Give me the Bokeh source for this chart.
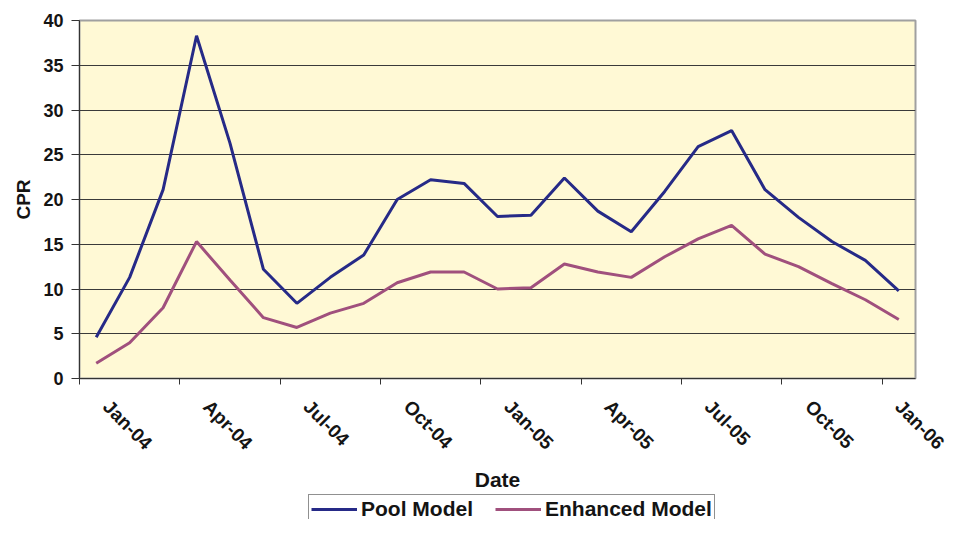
import math
from bokeh.plotting import figure
from bokeh.layouts import column
from bokeh.models import LinearAxis, FixedTicker, Range1d, Legend, LegendItem, Grid
from bokeh.embed import file_html
from bokeh.resources import INLINE

months = ["Jan-04", "Feb-04", "Mar-04", "Apr-04", "May-04", "Jun-04", "Jul-04",
          "Aug-04", "Sep-04", "Oct-04", "Nov-04", "Dec-04", "Jan-05", "Feb-05",
          "Mar-05", "Apr-05", "May-05", "Jun-05", "Jul-05", "Aug-05", "Sep-05",
          "Oct-05", "Nov-05", "Dec-05", "Jan-06"]
pool_model = [4.6, 11.3, 21.1, 38.3, 26.3, 12.2, 8.4, 11.3, 13.8, 20.0, 22.2, 21.8,
              18.1, 18.25, 22.4, 18.7, 16.4, 20.9, 25.9, 27.7, 21.1, 18.0, 15.3, 13.2, 9.8]
enhanced_model = [1.7, 4.0, 7.9, 15.3, 11.0, 6.8, 5.7, 7.3, 8.4, 10.7, 11.9, 11.9,
                  10.0, 10.15, 12.8, 11.9, 11.3, 13.6, 15.6, 17.1, 13.9, 12.5, 10.6, 8.8, 6.6]
tick_labels = ["Jan-04", "Apr-04", "Jul-04", "Oct-04", "Jan-05", "Apr-05",
               "Jul-05", "Oct-05", "Jan-06"]
y_ticks = [0, 5, 10, 15, 20, 25, 30, 35, 40]
series_names = ["Pool Model", "Enhanced Model"]
series_values = [pool_model, enhanced_model]
series_colors = ["#262A87", "#A0507D"]

FONT = "Liberation Sans"
TXT = "#141414"

n = len(months)
xs = [i + 0.5 for i in range(n)]
boundary_ticks = [months.index(t) for t in tick_labels]
label_offset = 0.8
label_ticks = [b + label_offset for b in boundary_ticks]

p = figure(width=948, height=494, output_backend="svg", toolbar_location=None,
           x_range=Range1d(0, n), y_range=Range1d(0, 40),
           x_axis_type=None, y_axis_type=None,
           min_border_left=79, min_border_right=33, min_border_top=20,
           min_border_bottom=116)
p.border_fill_color = "white"
p.background_fill_color = "#FFF9D5"
p.outline_line_color = "#A0A0A0"
p.outline_line_width = 2

yaxis = LinearAxis(ticker=FixedTicker(ticks=y_ticks, minor_ticks=[]),
                   axis_label="CPR")
yaxis.major_tick_out = 8
yaxis.major_tick_in = 0
yaxis.major_tick_line_color = "#333333"
yaxis.axis_line_color = "#333333"
yaxis.major_label_text_font = FONT
yaxis.major_label_text_font_style = "bold"
yaxis.major_label_text_font_size = "18px"
yaxis.major_label_text_color = TXT
yaxis.major_label_standoff = 8
yaxis.axis_label_text_font = FONT
yaxis.axis_label_text_font_style = "bold"
yaxis.axis_label_text_font_size = "19px"
yaxis.axis_label_text_color = TXT
yaxis.axis_label_standoff = 6
p.add_layout(yaxis, "left")

xaxis = LinearAxis(ticker=FixedTicker(ticks=label_ticks, minor_ticks=boundary_ticks),
                   axis_label="Date")
xaxis.major_label_overrides = {t: lab for t, lab in zip(label_ticks, tick_labels)}
xaxis.major_tick_out = 0
xaxis.major_tick_in = 0
xaxis.minor_tick_out = 6
xaxis.minor_tick_in = 0
xaxis.minor_tick_line_color = "#333333"
xaxis.axis_line_color = "#333333"
xaxis.major_label_orientation = -math.pi / 4
xaxis.major_label_text_font = FONT
xaxis.major_label_text_font_style = "bold"
xaxis.major_label_text_font_size = "19px"
xaxis.major_label_text_color = TXT
xaxis.major_label_standoff = 19
xaxis.axis_label_text_font = FONT
xaxis.axis_label_text_font_style = "bold"
xaxis.axis_label_text_font_size = "21px"
xaxis.axis_label_text_color = TXT
xaxis.axis_label_standoff = 4
p.add_layout(xaxis, "below")

grid = Grid(dimension=1, ticker=yaxis.ticker, grid_line_color="#3a3a3a", grid_line_width=1)
p.add_layout(grid)

for vals, col in zip(series_values, series_colors):
    p.line(xs, vals, line_color=col, line_width=3)

# legend strip below the chart (its own view of the same series, scrolled out of sight)
lf = figure(width=948, height=25, output_backend="svg", toolbar_location=None,
            x_range=Range1d(0, n), y_range=Range1d(100, 101),
            x_axis_type=None, y_axis_type=None, min_border=0)
lf.outline_line_color = None
lf.border_fill_color = "white"
lf.background_fill_color = "white"
items = []
for name, vals, col in zip(series_names, series_values, series_colors):
    r = lf.line(xs, vals, line_color=col, line_width=3)
    items.append(LegendItem(label=name, renderers=[r]))
legend = Legend(items=items, location=(229, -5), orientation="horizontal")
legend.label_text_font = FONT
legend.label_text_font_style = "bold"
legend.label_text_font_size = "21px"
legend.label_text_color = TXT
legend.glyph_width = 46
legend.glyph_height = 14
legend.label_height = 14
legend.label_standoff = 4
legend.spacing = 22
legend.padding = 2
legend.margin = 0
legend.border_line_color = "#222222"
legend.border_line_width = 1
legend.background_fill_color = "white"
legend.background_fill_alpha = 1
lf.add_layout(legend, "center")

layout = column(p, lf, spacing=0)
open("out.html", "w").write(file_html(layout, INLINE))
